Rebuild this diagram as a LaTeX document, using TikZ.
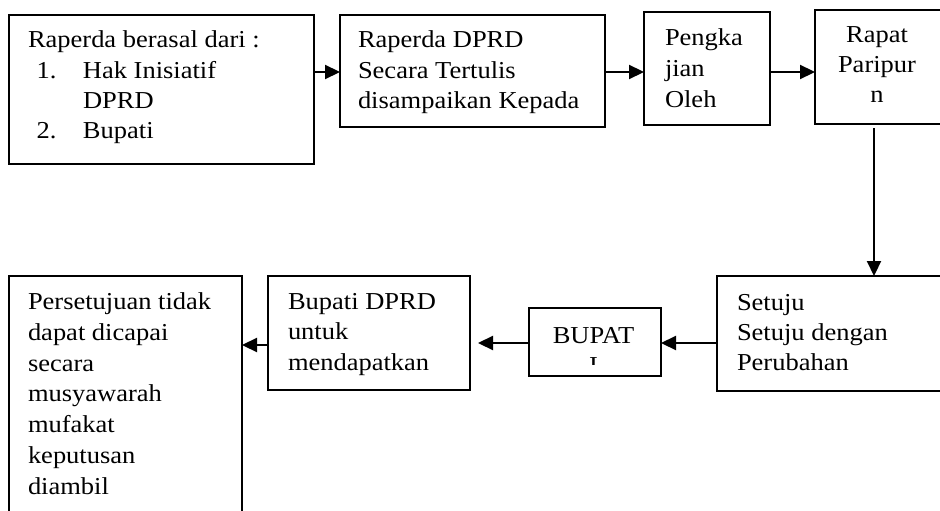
\documentclass[tikz,border=0pt]{standalone}
\usepackage{fontspec}
\setmainfont{Liberation Serif}[FakeStretch=1.09]
\usetikzlibrary{arrows.meta,calc}
\begin{document}
\begin{tikzpicture}[x=1pt,y=-1pt,
  box/.style={draw,line width=2.3pt,inner sep=0pt,outer sep=0pt,anchor=north west},
  txt/.style={inner sep=0pt,outer sep=0pt,anchor=north west,align=left},
  conn/.style={line width=2.2pt,-{Triangle[length=15pt,width=14pt]}},
]
\useasboundingbox (0,0) rectangle (940,511);
\clip (0,0) rectangle (940,511);
% boxes
\node[box,minimum width=305pt,minimum height=149pt] (b1) at (9,15) {};
\node[box,minimum width=265pt,minimum height=112pt] (b2) at (340,15) {};
\node[box,minimum width=126pt,minimum height=113pt] (b3) at (644,12) {};
\node[box,minimum width=126pt,minimum height=114pt] (b4) at (815,10) {};
\node[box,minimum width=224pt,minimum height=115pt] (b5) at (717,276) {};
\node[box,minimum width=132pt,minimum height=68pt] (b6) at (529,308) {};
\node[box,minimum width=202pt,minimum height=114pt] (b7) at (268,276) {};
\node[box,minimum width=233pt,minimum height=250pt] (b8) at (9,276) {};
% texts
\node[txt,font=\fontsize{24.3}{30.3}\selectfont] (t1) at (28,31)
  {Raperda berasal dari :\\
   \hspace*{8.7pt}\makebox[46.3pt][l]{1.}Hak Inisiatif\\
   \hspace*{55pt}DPRD\\
   \hspace*{8.7pt}\makebox[46.3pt][l]{2.}Bupati};
\node[txt,font=\fontsize{24.3}{30.5}\selectfont] (t2) at (358,31)
  {Raperda DPRD\\Secara Tertulis\\disampaikan Kepada};
\node[txt,font=\fontsize{24.3}{31}\selectfont] (t3) at (665,29)
  {Pengka\\jian\\Oleh};
\node[txt,anchor=north,align=center,font=\fontsize{24.3}{30}\selectfont] (t4) at (877,27)
  {Rapat\\Paripur\\n};
\node[txt,font=\fontsize{24.3}{30}\selectfont] (t5) at (737,294)
  {Setuju\\Setuju dengan\\Perubahan};
\node[inner sep=0pt,anchor=base,font=\fontsize{24.3}{30}\selectfont] (t6) at (593.5,343) {BUPAT};
\begin{scope}
  \clip (530,300) rectangle (660,364);
  \node[inner sep=0pt,anchor=base,font=\fontsize{24.3}{30}\selectfont] (t6b) at (593.5,373) {I};
\end{scope}
\node[txt,font=\fontsize{24.3}{30.7}\selectfont] (t7) at (288,293)
  {Bupati DPRD\\untuk\\mendapatkan};
\node[txt,font=\fontsize{24.3}{30.7}\selectfont] (t8) at (28,293)
  {Persetujuan tidak\\dapat dicapai\\secara\\musyawarah\\mufakat\\keputusan\\diambil};
% connectors
\coordinate (r1) at (0,72);
\draw[conn] (b1.east |- r1) -- (b2.west |- r1);
\draw[conn] (b2.east |- r1) -- (b3.west |- r1);
\draw[conn] (b3.east |- r1) -- (b4.west |- r1);
\draw[conn] ([xshift=-4pt,yshift=-4pt]b4.south) -- ([xshift=-4pt]b4.south |- b5.north);
\coordinate (r2) at (0,343);
\draw[conn] (b5.west |- r2) -- (b6.east |- r2);
\draw[conn,shorten >=8pt] (b6.west |- r2) -- (b7.east |- r2);
\coordinate (r3) at (0,345);
\draw[conn] (b7.west |- r3) -- (b8.east |- r3);
\end{tikzpicture}
\end{document}
